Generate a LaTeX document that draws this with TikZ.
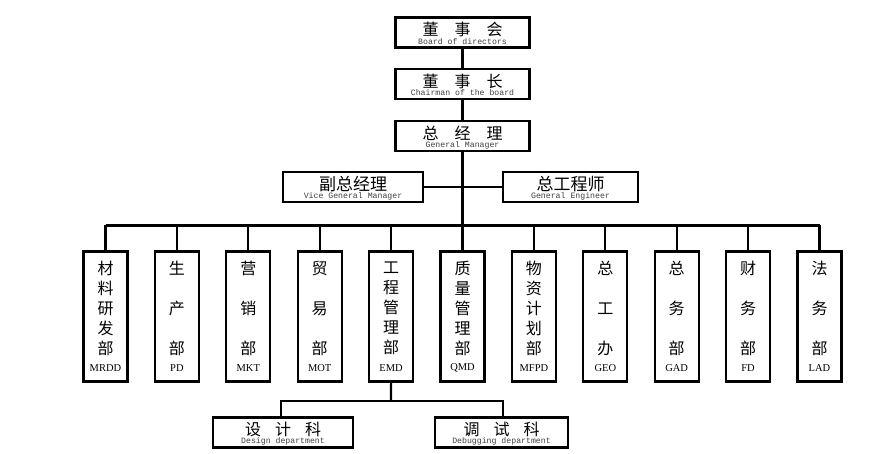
\documentclass[tikz,border=0pt]{standalone}
\usepackage{fontspec}
\newfontfamily\cjk{Noto Sans CJK SC}
\newfontfamily\monoen{Liberation Mono}
\newfontfamily\codefont{Liberation Serif}
\begin{document}
\begin{tikzpicture}[x=1pt,y=-1pt,
  box/.style={draw=black,line width=2.2pt,fill=white,inner sep=0pt,minimum height=30pt},
  dept/.style={draw=black,line width=2.2pt,fill=white,inner sep=0pt,minimum width=44pt,minimum height=130pt},
  cn/.style={inner sep=0pt,font=\cjk\fontsize{16}{17}\selectfont},
  en/.style={inner sep=0pt,text=black!75,font=\monoen\fontsize{8.2}{8.2}\selectfont},
  dcn/.style={inner sep=0pt,align=center,font=\cjk\fontsize{16}{20}\selectfont},
  dcn3/.style={inner sep=0pt,align=center,font=\cjk\fontsize{16}{40}\selectfont},
  code/.style={inner sep=0pt,font=\codefont\fontsize{10.5}{11}\selectfont},
  conn/.style={draw=black,line width=2.2pt}]
\useasboundingbox (0,0) rectangle (888,454);
\fill[white] (0,0) rectangle (888,454);

% top boxes
\node[box,minimum width=134pt] (bod) at (462.5,32.5) {};
\node[box,minimum width=134pt] (chm) at (462.5,84) {};
\node[box,minimum width=134pt] (gm) at (462.5,136) {};
\node[box,minimum width=140pt] (vgm) at (353,187) {};
\node[box,minimum width=135pt] (ge) at (570.5,187) {};

\node[cn] (bodc) at ([yshift=3pt]bod.center) {董\hspace{16pt}事\hspace{16pt}会};
\node[en] (bode) at ([yshift=-9pt]bod.center) {Board of directors};
\node[cn] (chmc) at ([yshift=3pt]chm.center) {董\hspace{16pt}事\hspace{16pt}长};
\node[en] (chme) at ([yshift=-9pt]chm.center) {Chairman of the board};
\node[cn] (gmc) at ([yshift=3pt]gm.center) {总\hspace{16pt}经\hspace{16pt}理};
\node[en] (gme) at ([yshift=-9pt]gm.center) {General Manager};
\node[cn,font=\cjk\fontsize{17}{18}\selectfont] (vgmc) at ([yshift=3pt]vgm.center) {副总经理};
\node[en] (vgme) at ([yshift=-9pt]vgm.center) {Vice General Manager};
\node[cn,font=\cjk\fontsize{17}{18}\selectfont] (gec) at ([yshift=3pt]ge.center) {总工程师};
\node[en] (gee) at ([yshift=-9pt]ge.center) {General Engineer};

% departments
\foreach \i/\nm/\txt/\st/\cd in {
  0/d1/{材\\料\\研\\发\\部}/dcn/MRDD,
  1/d2/{生\\产\\部}/dcn3/PD,
  2/d3/{营\\销\\部}/dcn3/MKT,
  3/d4/{贸\\易\\部}/dcn3/MOT,
  4/d5/{工\\程\\管\\理\\部}/dcn/EMD,
  5/d6/{质\\量\\管\\理\\部}/dcn/QMD,
  6/d7/{物\\资\\计\\划\\部}/dcn/MFPD,
  7/d8/{总\\工\\办}/dcn3/GEO,
  8/d9/{总\\务\\部}/dcn3/GAD,
  9/d10/{财\\务\\部}/dcn3/FD,
  10/d11/{法\\务\\部}/dcn3/LAD}{
  \node[dept] (\nm) at (105.5+71.4*\i,316.5) {};
  \node[\st] (\nm t) at ([yshift=8.5pt]\nm.center) {\txt};
  \node[code] (\nm c) at ([yshift=-51.5pt]\nm.center) {\cd};
}

% sub departments
\node[box,minimum width=140pt] (des) at (283,432.5) {};
\node[box,minimum width=133pt] (dbg) at (501.5,432.5) {};
\node[cn] (desc) at ([yshift=3pt]des.center) {设\hspace{14pt}计\hspace{14pt}科};
\node[en] (dese) at ([yshift=-9pt]des.center) {Design department};
\node[cn] (dbgc) at ([yshift=3pt]dbg.center) {调\hspace{14pt}试\hspace{14pt}科};
\node[en] (dbge) at ([yshift=-9pt]dbg.center) {Debugging department};

% connectors
\coordinate (bus) at (462.5,225.5);
\coordinate (sbus) at (391,401);
\draw[conn] (bod.south) -- (chm.north);
\draw[conn] (chm.south) -- (gm.north);
\draw[conn] (gm.south) -- (bus);
\draw[conn] (vgm.east) -- (vgm.east -| gm.south);
\draw[conn] (ge.west) -- (ge.west -| gm.south);
\draw[conn] (d1.north |- bus) -- (d11.north |- bus);
\foreach \nm in {d1,d2,d3,d4,d5,d6,d7,d8,d9,d10,d11}{
  \draw[conn] (\nm.north) -- (\nm.north |- bus);
}
\draw[conn] (d5.south) -- (sbus);
\draw[conn] ([xshift=-2pt]des.north) |- (sbus) -| ([xshift=1.5pt]dbg.north);
\end{tikzpicture}
\end{document}
